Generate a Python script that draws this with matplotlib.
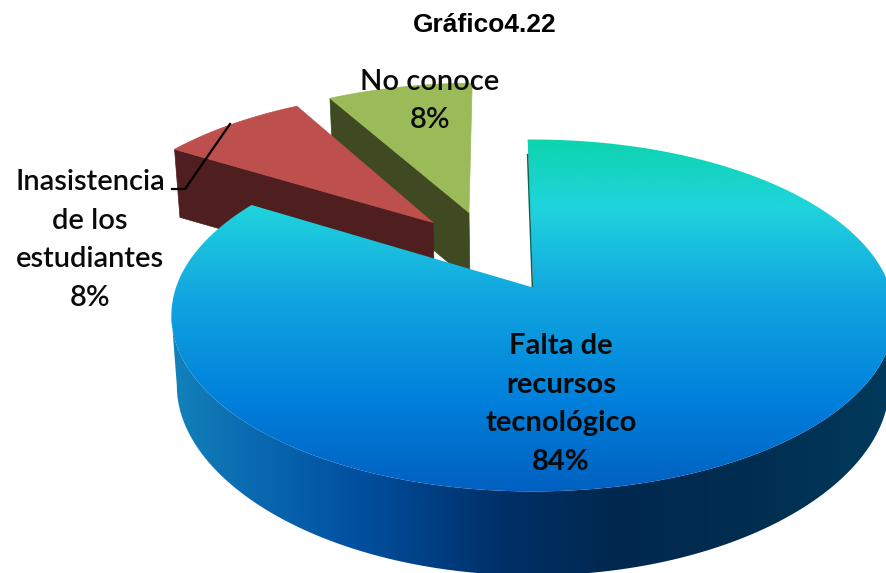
import numpy as np
import matplotlib
matplotlib.use("Agg")
import matplotlib.pyplot as plt
from matplotlib.patches import Polygon
from matplotlib.colors import LinearSegmentedColormap

title = "Gráfico4.22"
labels = ["Falta de\nrecursos\ntecnológico", "Inasistencia\nde los\nestudiantes", "No conoce"]
values = [84, 8, 8]

# styles / projection parameters
top_colors = [None, "#bd504c", "#9bbb59"]
wall_colors = [None, "#4e1f1e", "#3f4a22"]
explode = [(0.0, 0.0), (-0.298, 0.403), (-0.1927, 0.47)]
label_pos = [(561, 404), (90, 240), (430, 101)]
label_weight = ["bold", "semibold", "semibold"]
X0, Y0, R, S, K = 533.0, 287.5, 357.0, 171.5, 0.159
START = -1.0
DEPTH_FRONT, DEPTH_BACK, SHRINK = 84.0, 68.0, 0.985
DEPTH_SIDE = 14.0


def project(u, v, dy=0.0, shrink=1.0):
    w = 1 + K * np.asarray(v)
    x = X0 + shrink * R * np.asarray(u) / w
    y = Y0 - S * np.asarray(v) / w + dy
    return np.column_stack([x, y])


fig = plt.figure(figsize=(8.86, 5.73), dpi=100)
ax = fig.add_axes([0, 0, 1, 1])
ax.axis("off")

fracs = np.array(values) / sum(values) * 360.0
edges = START + np.concatenate([[0], np.cumsum(fracs)])


def wedge_uv(i, n=120):
    th = np.radians(np.linspace(edges[i], edges[i + 1], n))
    u = np.concatenate([[0], np.sin(th)]) + explode[i][0]
    v = np.concatenate([[0], np.cos(th)]) + explode[i][1]
    return u, v


# exploded slices: back (green) first, then red
for i in [2, 1]:
    u, v = wedge_uv(i)
    up = project(u, v)
    th = np.radians(edges[i])
    cu, cv = np.sin(th) + explode[i][0], np.cos(th) + explode[i][1]
    ap_u, ap_v = explode[i]
    wall = np.vstack([project([cu, ap_u], [cv, ap_v]),
                      project([ap_u, cu], [ap_v, cv], DEPTH_BACK, SHRINK)])
    ax.add_patch(Polygon(wall, closed=True, fc=wall_colors[i], ec=wall_colors[i], lw=0.5, zorder=2 + (2 - i) * 2))
    ax.add_patch(Polygon(up, closed=True, fc=top_colors[i], ec=top_colors[i], lw=0.5, zorder=3 + (2 - i) * 2))

# leader line of the red slice
ax.plot([172, 185, 230], [189, 189, 124], color="black", lw=1.6, zorder=6)

# big slice: side wall with horizontal gradient
phi = np.radians(np.linspace(189, 351, 200))
wu, wv = np.cos(phi), np.sin(phi)
lower = project(wu, wv, DEPTH_FRONT - DEPTH_SIDE * wu ** 2, SHRINK)
wall_poly = np.vstack([lower, project(wu, wv)[::-1]])
wall_patch = Polygon(wall_poly, closed=True, fc="none", ec="none", zorder=7)
ax.add_patch(wall_patch)
wall_stops = [(0.0, "#1282ba"), (0.12, "#0a68b0"), (0.26, "#0050a0"), (0.46, "#003068"),
              (0.62, "#00284f"), (0.82, "#002e50"), (1.0, "#003a5c")]
wall_cmap = LinearSegmentedColormap.from_list("wall", wall_stops)
im = ax.imshow(np.linspace(0, 1, 512)[None, :], cmap=wall_cmap, aspect="auto",
               extent=(171, 886, 580, 270), zorder=7, interpolation="bilinear")
im.set_clip_path(wall_patch)

# big slice: top with vertical gradient
u, v = wedge_uv(0, 360)
top_pts = project(u, v)
top_patch = Polygon(top_pts, closed=True, fc="none", ec="none", zorder=8)
ax.add_patch(top_patch)
top_stops = [(0.0, "#0dd4ae"), (0.19, "#20d4dc"), (0.43, "#12a8e0"), (0.74, "#0080dc"), (1.0, "#0060c0")]
top_cmap = LinearSegmentedColormap.from_list("top", top_stops)
im2 = ax.imshow(np.linspace(0, 1, 512)[:, None], cmap=top_cmap, aspect="auto",
                extent=(0, 886, 492, 139), zorder=8, interpolation="bilinear")
im2.set_clip_path(top_patch)

# thin dark cut edge of the big slice
th0 = np.radians(edges[0])
edge = project([0, 0.89 * np.sin(th0)], [0, 0.89 * np.cos(th0)])
ax.plot(edge[:, 0] - 0.6, edge[:, 1], color="#0b6656", lw=1.1, zorder=9, solid_capstyle="butt")

# labels
for lab, val, (x, y), wt in zip(labels, values, label_pos, label_weight):
    ax.text(x, y, f"{lab}\n{val}%", ha="center", va="center", family="Lato", weight=wt,
            fontsize=21, linespacing=1.6, color="#0a0a0a", zorder=10)

ax.text(485, 25, title, ha="center", va="center", family="Liberation Sans", weight="bold",
        fontsize=19, color="black", zorder=10)

ax.set_xlim(0, 886)
ax.set_ylim(573, 0)
fig.savefig("out.png", dpi=100, facecolor="white")
